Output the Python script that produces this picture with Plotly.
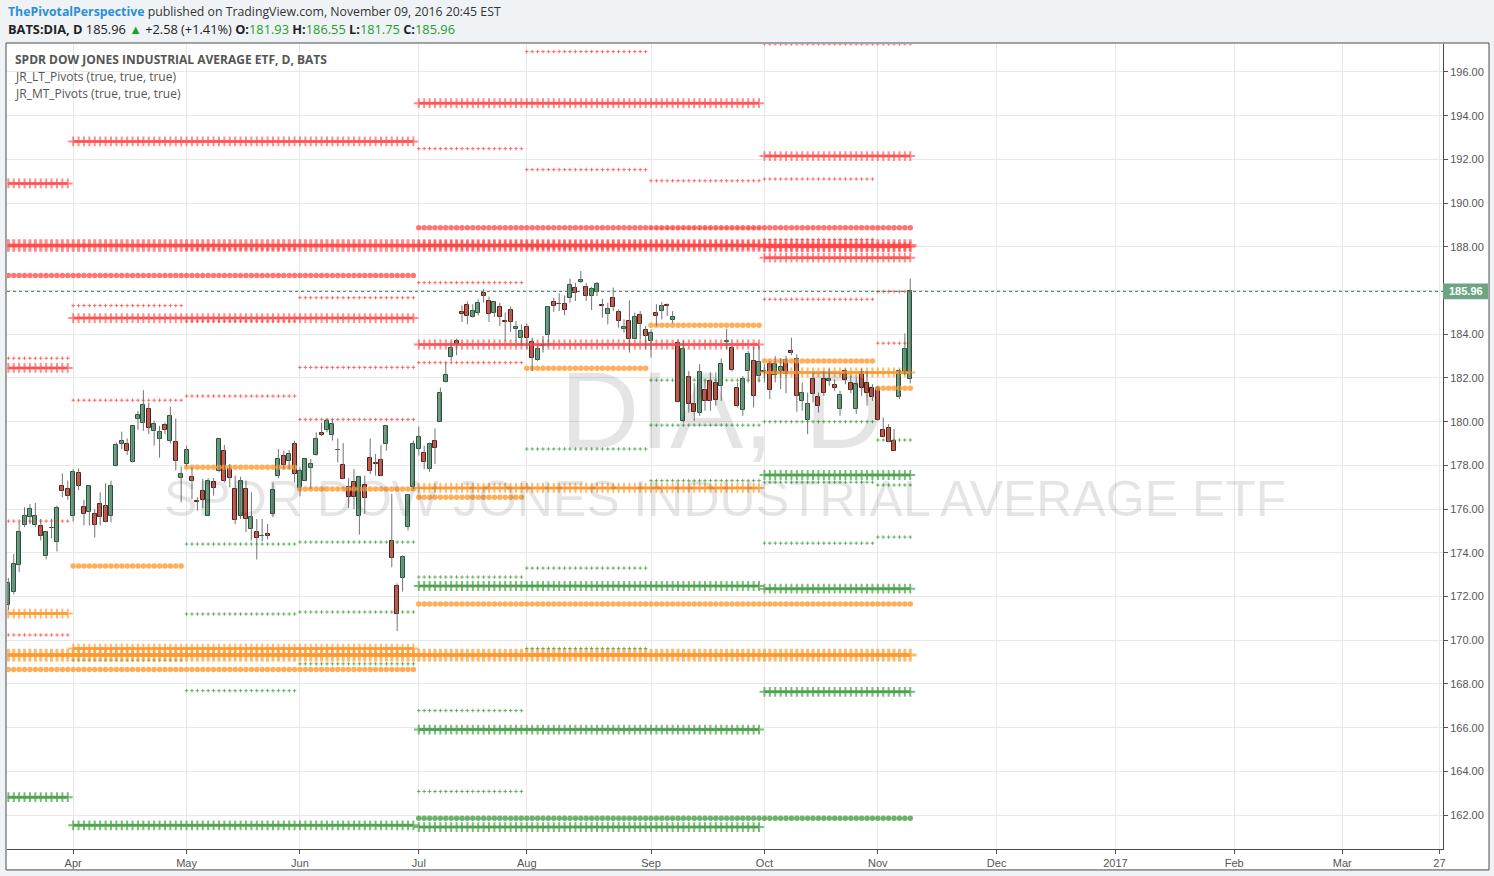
import pandas as pd
import plotly.graph_objects as go

# ---------------- trading calendar (bar index axis, like TradingView) ----------------
HOLIDAYS = ["2016-03-25", "2016-05-30", "2016-07-04", "2016-09-05"]
CAL = [d for d in pd.bdate_range("2016-03-15", "2017-03-31") if d.strftime("%Y-%m-%d") not in HOLIDAYS]

# ---------------- daily candles BATS:DIA (2016-03-15 .. 2016-11-09) ----------------
OPEN = [171.59, 172.20, 173.42, 175.25, 175.63, 175.29, 175.22, 173.85, 175.14, 174.49, 177.07, 176.90,
        175.70, 177.63, 176.08, 175.85, 175.76, 176.22, 176.13, 175.70, 177.98, 178.99, 178.96, 178.14,
        180.14, 179.96, 180.60, 179.58, 179.20, 179.84, 179.10, 179.05, 177.41, 178.05, 177.45, 176.36,
        176.81, 175.67, 177.22, 177.73, 178.68, 177.83, 176.90, 175.67, 176.90, 175.09, 174.94, 174.76,
        174.87, 175.76, 177.50, 178.45, 178.21, 178.96, 176.95, 177.27, 177.86, 178.47, 179.46, 179.63,
        179.39, 178.69, 178.00, 177.00, 177.22, 175.70, 177.12, 178.35, 178.08, 178.23, 179.00, 174.53,
        172.48, 172.84, 175.17, 177.00, 178.75, 178.56, 177.83, 179.13, 179.99, 181.82, 182.98, 183.67,
        185.03, 185.35, 184.79, 184.99, 185.90, 185.53, 184.99, 185.26, 184.58, 185.12, 184.26, 183.83,
        184.35, 183.66, 182.83, 183.47, 183.97, 185.49, 185.39, 185.40, 185.67, 186.13, 186.38, 186.17,
        185.75, 185.93, 185.30, 184.92, 185.67, 185.03, 184.26, 184.62, 183.80, 184.90, 184.21, 183.69,
        184.95, 185.06, 185.33, 184.65, 183.59, 180.04, 182.06, 180.83, 180.38, 181.46, 181.87, 181.79,
        181.64, 183.65, 183.39, 181.52, 180.54, 182.32, 182.78, 182.10, 182.28, 182.63, 182.14, 182.32,
        182.81, 183.21, 182.86, 180.95, 180.09, 181.97, 181.15, 181.94, 181.84, 181.68, 180.60, 182.34,
        181.79, 180.60, 182.29, 181.79, 181.56, 181.52, 179.63, 179.69, 179.10, 181.14, 182.20, 181.93]
HIGH = [172.85, 173.95, 175.40, 176.08, 176.23, 176.28, 175.55, 175.00, 175.55, 176.16, 177.63, 177.30,
        177.83, 177.86, 176.43, 177.10, 176.01, 176.77, 177.18, 177.30, 179.05, 179.54, 179.23, 179.81,
        180.49, 181.44, 180.87, 180.04, 179.81, 179.96, 180.68, 180.14, 177.95, 178.90, 177.91, 176.54,
        177.38, 177.41, 177.42, 179.23, 178.93, 178.06, 177.53, 177.48, 177.30, 176.77, 175.55, 175.55,
        175.32, 177.22, 178.75, 178.67, 178.70, 179.13, 177.91, 178.29, 178.29, 179.51, 179.96, 180.14,
        180.11, 179.23, 179.02, 177.41, 177.83, 177.48, 177.53, 179.23, 178.52, 178.93, 179.84, 176.69,
        172.60, 173.88, 176.69, 179.13, 179.78, 178.90, 179.05, 179.69, 181.56, 182.70, 183.62, 183.80,
        185.32, 185.50, 185.37, 185.59, 186.08, 185.72, 185.52, 185.44, 184.99, 185.26, 184.60, 184.45,
        184.50, 183.84, 183.54, 183.92, 185.29, 185.67, 185.87, 185.78, 186.54, 186.35, 186.89, 186.35,
        186.17, 186.39, 185.62, 185.44, 186.13, 185.14, 184.68, 185.55, 184.99, 185.06, 184.38, 184.22,
        185.37, 185.47, 185.41, 185.06, 183.77, 183.69, 182.32, 181.76, 182.63, 181.87, 182.25, 182.25,
        182.89, 184.25, 183.45, 181.79, 182.09, 183.24, 183.43, 183.46, 182.63, 182.78, 183.00, 182.89,
        183.01, 183.84, 183.08, 181.79, 181.33, 182.25, 181.33, 182.32, 182.43, 181.94, 181.41, 182.43,
        182.09, 182.02, 182.43, 182.32, 181.71, 181.61, 180.19, 179.89, 179.66, 182.40, 184.04, 186.55]
LOW = [171.40, 172.10, 173.12, 175.17, 175.32, 175.17, 174.56, 173.70, 174.67, 174.06, 176.54, 176.43,
       175.43, 176.87, 175.25, 175.25, 174.70, 175.25, 175.40, 175.40, 177.95, 178.75, 178.47, 178.14,
       179.63, 179.58, 179.43, 178.90, 178.35, 179.43, 179.00, 177.76, 176.31, 177.95, 176.46, 175.93,
       176.04, 175.67, 176.62, 177.68, 177.22, 176.99, 175.32, 175.55, 174.94, 174.56, 173.69, 174.52,
       174.61, 175.63, 177.41, 177.83, 177.83, 177.22, 176.58, 177.27, 176.92, 178.44, 179.35, 179.51,
       179.13, 178.14, 177.38, 176.04, 176.00, 174.83, 175.78, 177.60, 177.53, 177.50, 178.67, 173.34,
       170.42, 172.23, 175.02, 176.92, 178.45, 177.83, 177.70, 178.06, 179.99, 181.79, 182.78, 183.04,
       184.56, 184.45, 184.76, 184.86, 185.44, 184.56, 184.79, 184.38, 183.69, 184.10, 183.69, 183.46,
       183.31, 182.32, 182.78, 183.16, 183.43, 185.02, 185.06, 184.86, 185.44, 185.52, 186.35, 185.52,
       185.11, 185.75, 184.76, 184.45, 185.06, 184.30, 184.07, 183.16, 183.77, 183.77, 183.31, 182.93,
       184.38, 184.68, 184.83, 184.50, 180.88, 179.96, 180.42, 180.04, 180.27, 180.50, 180.50, 180.73,
       180.95, 183.31, 182.30, 180.65, 180.27, 181.79, 180.65, 181.79, 181.79, 181.03, 181.79, 181.49,
       181.30, 183.04, 180.45, 180.50, 179.43, 180.88, 180.42, 181.18, 181.64, 181.41, 180.27, 181.71,
       181.30, 180.35, 181.18, 180.73, 180.95, 180.04, 179.28, 179.05, 178.67, 181.03, 182.13, 181.75]
CLOSE = [172.63, 173.50, 174.94, 175.67, 176.01, 175.67, 174.79, 174.94, 175.12, 176.04, 176.84, 176.62,
         177.71, 177.07, 175.78, 177.04, 175.25, 175.63, 175.43, 177.07, 178.93, 179.11, 178.67, 179.78,
         180.30, 180.75, 179.69, 179.87, 179.54, 179.63, 180.24, 178.18, 177.59, 178.70, 177.27, 176.33,
         176.43, 177.30, 176.95, 179.19, 177.27, 177.41, 175.50, 177.27, 175.55, 175.63, 174.68, 174.78,
         174.76, 176.86, 178.27, 178.03, 178.50, 177.60, 177.73, 178.27, 178.06, 179.19, 179.37, 180.05,
         179.87, 178.71, 177.38, 176.54, 176.54, 177.45, 176.49, 177.76, 178.06, 177.53, 179.78, 173.75,
         171.18, 173.80, 176.65, 179.00, 179.28, 178.17, 178.98, 178.78, 181.29, 182.12, 183.39, 183.55,
         184.92, 184.83, 185.08, 185.41, 185.75, 184.94, 185.49, 184.80, 184.56, 184.56, 184.35, 184.13,
         183.84, 182.93, 183.34, 183.46, 185.26, 185.29, 185.37, 185.11, 186.26, 185.87, 186.48, 185.75,
         186.08, 186.31, 185.29, 185.14, 185.24, 184.60, 184.35, 183.77, 184.80, 184.47, 183.92, 184.07,
         184.83, 185.30, 185.31, 184.80, 180.88, 183.31, 180.80, 180.42, 182.25, 180.95, 180.95, 181.00,
         182.66, 183.66, 182.37, 180.73, 181.97, 183.08, 181.18, 182.75, 182.29, 181.46, 182.66, 182.52,
         182.20, 183.12, 181.18, 181.33, 180.83, 181.26, 180.70, 181.33, 181.97, 181.52, 181.21, 181.91,
         181.46, 181.74, 181.52, 181.33, 181.15, 180.09, 179.31, 179.08, 178.67, 182.32, 183.34, 185.96]

N = len(CLOSE)
DATES = CAL[:N]

# ---------------- pivot periods ----------------
PERIODS = {
    "Y16": ("2016-01-01", "2016-12-31"),
    "H1": ("2016-01-01", "2016-06-30"), "H2": ("2016-07-01", "2016-12-31"),
    "Q1": ("2016-01-01", "2016-03-31"), "Q2": ("2016-04-01", "2016-06-30"),
    "Q3": ("2016-07-01", "2016-09-30"), "Q4": ("2016-10-01", "2016-12-31"),
    "Mar": ("2016-03-01", "2016-03-31"), "Apr": ("2016-04-01", "2016-04-30"),
    "May": ("2016-05-01", "2016-05-31"), "Jun": ("2016-06-01", "2016-06-30"),
    "Jul": ("2016-07-01", "2016-07-31"), "Aug": ("2016-08-01", "2016-08-31"),
    "Sep": ("2016-09-01", "2016-09-30"), "Oct": ("2016-10-01", "2016-10-31"),
    "Nov": ("2016-11-01", "2016-11-30"),
}

# JR_LT_Pivots : yearly (heavy crosses), half-year (circles), quarterly (crosses)
YEARLY_LEVELS = [("Y16", 188.06, "R"), ("Y16", 169.32, "P")]
HALF_LEVELS = [("H1", 186.69, "R"), ("H1", 168.66, "P"),
               ("H2", 188.87, "R"), ("H2", 171.66, "P"), ("H2", 161.85, "S")]
QUARTER_LEVELS = [("Q1", 190.90, "R"), ("Q1", 182.46, "R"), ("Q1", 171.22, "P"), ("Q1", 162.82, "S"),
                  ("Q2", 192.82, "R"), ("Q2", 184.74, "R"), ("Q2", 169.62, "P"), ("Q2", 161.53, "S"),
                  ("Q3", 194.57, "R"), ("Q3", 188.07, "R"), ("Q3", 183.53, "R"), ("Q3", 176.97, "P"),
                  ("Q3", 172.48, "S"), ("Q3", 165.91, "S"), ("Q3", 161.45, "S"),
                  ("Q4", 192.15, "R"), ("Q4", 188.00, "R"), ("Q4", 187.50, "R"), ("Q4", 182.25, "P"),
                  ("Q4", 177.56, "S"), ("Q4", 172.36, "S"), ("Q4", 167.64, "S")]
# JR_MT_Pivots : monthly pivot (circles) and monthly levels (small crosses)
MONTH_PIVOTS = [("Apr", 173.39), ("May", 177.91), ("Jun", 176.92), ("Jul", 176.54),
                ("Aug", 182.44), ("Sep", 184.41), ("Oct", 182.78), ("Nov", 181.53)]
MONTH_LEVELS = [("Mar", 182.90, "R"), ("Mar", 175.45, "R"), ("Mar", 170.24, "R"),
                ("Apr", 185.31, "R"), ("Apr", 180.98, "R"), ("Apr", 169.09, "S"),
                ("May", 187.90, "R"), ("May", 184.60, "R"), ("May", 181.17, "R"),
                ("May", 174.40, "S"), ("May", 171.20, "S"), ("May", 167.69, "S"),
                ("Jun", 185.67, "R"), ("Jun", 182.48, "R"), ("Jun", 180.10, "R"),
                ("Jun", 174.49, "S"), ("Jun", 171.29, "S"), ("Jun", 168.92, "S"),
                ("Jul", 192.49, "R"), ("Jul", 186.36, "R"), ("Jul", 182.70, "R"),
                ("Jul", 172.89, "S"), ("Jul", 166.78, "S"), ("Jul", 163.08, "S"),
                ("Aug", 196.93, "R"), ("Aug", 191.53, "R"), ("Aug", 187.95, "R"),
                ("Aug", 178.75, "S"), ("Aug", 173.30, "S"), ("Aug", 169.62, "S"),
                ("Sep", 191.02, "R"), ("Sep", 188.85, "R"),
                ("Sep", 181.90, "S"), ("Sep", 179.84, "S"), ("Sep", 177.30, "S"),
                ("Oct", 197.28, "R"), ("Oct", 191.10, "R"), ("Oct", 188.33, "R"), ("Oct", 185.60, "R"),
                ("Oct", 180.00, "S"), ("Oct", 177.23, "S"), ("Oct", 174.44, "S"),
                ("Nov", 197.28, "R"), ("Nov", 185.95, "R"), ("Nov", 183.59, "R"),
                ("Nov", 179.16, "S"), ("Nov", 177.10, "S"), ("Nov", 174.72, "S")]

TICK_MONTHS = ["2016-04-01", "2016-05-01", "2016-06-01", "2016-07-01", "2016-08-01", "2016-09-01",
               "2016-10-01", "2016-11-01", "2016-12-01", "2017-01-01", "2017-02-01", "2017-03-01",
               "2017-03-27"]
TICK_TEXT = ["Apr", "May", "Jun", "Jul", "Aug", "Sep", "Oct", "Nov", "Dec", "2017", "Feb", "Mar", "27"]
Y_TICKS = list(range(162, 197, 2))


def bars_in(period):
    a, b = PERIODS[period]
    a, b = pd.Timestamp(a), pd.Timestamp(b)
    return [i for i, d in enumerate(DATES) if a <= d <= b]


def first_bar_on_or_after(day):
    t = pd.Timestamp(day)
    return next(i for i, d in enumerate(CAL) if d >= t)


COL = {
    "thick": {"R": "rgba(255,70,70,0.62)", "P": "rgba(255,150,40,0.68)", "S": "rgba(70,160,70,0.72)"},
    "thin": {"R": "rgba(255,60,60,0.7)", "P": "rgba(255,150,40,0.75)", "S": "rgba(60,160,60,0.75)"},
    "dot": {"R": "rgba(255,70,70,0.75)", "P": "rgba(255,160,60,0.85)", "S": "rgba(70,160,70,0.8)"},
}

fig = go.Figure()


def add_level(period, level, role, kind):
    xs = bars_in(period)
    ys = [level] * len(xs)
    if kind == "year":
        fig.add_trace(go.Scatter(x=xs, y=ys, mode="lines+markers",
                                 line=dict(color=COL["thick"][role], width=4),
                                 marker=dict(symbol="cross-thin", size=9,
                                             line=dict(color=COL["thick"][role], width=3)),
                                 hoverinfo="skip", showlegend=False))
    elif kind == "quarter":
        fig.add_trace(go.Scatter(x=xs, y=ys, mode="lines+markers",
                                 line=dict(color=COL["thick"][role], width=3),
                                 marker=dict(symbol="cross-thin", size=7,
                                             line=dict(color=COL["thick"][role], width=2)),
                                 hoverinfo="skip", showlegend=False))
    elif kind == "circle":
        fig.add_trace(go.Scatter(x=xs, y=ys, mode="markers",
                                 marker=dict(symbol="circle", size=5.5, color=COL["dot"][role],
                                             line=dict(width=0)),
                                 hoverinfo="skip", showlegend=False))
    else:
        fig.add_trace(go.Scatter(x=xs, y=ys, mode="markers",
                                 marker=dict(symbol="cross-thin", size=2.6,
                                             line=dict(color=COL["thin"][role], width=1)),
                                 hoverinfo="skip", showlegend=False))


for p, lv, r in MONTH_LEVELS:
    add_level(p, lv, r, "thin")
for p, lv in MONTH_PIVOTS:
    add_level(p, lv, "P", "circle")
for p, lv, r in HALF_LEVELS:
    add_level(p, lv, r, "circle")
for p, lv, r in QUARTER_LEVELS:
    add_level(p, lv, r, "quarter")
for p, lv, r in YEARLY_LEVELS:
    add_level(p, lv, r, "year")

# ---------------- candles ----------------
idx = list(range(N))
wx, wy = [], []
for i in idx:
    wx += [i, i, None]
    wy += [LOW[i], HIGH[i], None]
fig.add_trace(go.Scatter(x=wx, y=wy, mode="lines", line=dict(color="#737375", width=1),
                         hoverinfo="skip", showlegend=False))

for up in (True, False):
    sel = [i for i in idx if (CLOSE[i] >= OPEN[i]) == up]
    fig.add_trace(go.Bar(
        x=sel,
        base=[min(OPEN[i], CLOSE[i]) for i in sel],
        y=[max(abs(CLOSE[i] - OPEN[i]), 0.03) for i in sel],
        width=0.72,
        marker=dict(color="#6ba583" if up else "#d75442",
                    line=dict(color="#225437" if up else "#5b1a13", width=1)),
        hoverinfo="skip", showlegend=False))

last = CLOSE[-1]
tickvals = [first_bar_on_or_after(d) for d in TICK_MONTHS]

PX_W, PX_H = 1494, 876
L, R, T, B = 7, 51, 44, 25
pw, ph = PX_W - L - R, PX_H - T - B


def px(xp):
    return (xp - L) / pw


def py(yp):
    return (PX_H - B - yp) / ph


font_ui = "Open Sans, Noto Sans, Liberation Sans, sans-serif"

fig.update_layout(
    width=PX_W, height=PX_H,
    margin=dict(l=L, r=R, t=T, b=B, pad=0),
    paper_bgcolor="#f0f3f6", plot_bgcolor="#ffffff",
    barmode="overlay", bargap=0,
    showlegend=False,
    xaxis=dict(range=[-0.25, 265.65], tickmode="array", tickvals=tickvals, ticktext=TICK_TEXT,
               showgrid=True, gridcolor="#e8e8e8", gridwidth=1, zeroline=False,
               ticks="outside", ticklen=4, tickcolor="#555555",
               showline=True, linecolor="#4a4a4a", linewidth=1,
               tickfont=dict(family="Liberation Sans Narrow, Liberation Sans, Arial", size=11, color="#555555")),
    yaxis=dict(range=[160.448, 197.278], side="right", tickmode="array", tickvals=Y_TICKS,
               tickformat=".2f", showgrid=True, gridcolor="#e8e8e8", gridwidth=1, zeroline=False,
               ticks="outside", ticklen=4, tickcolor="#555555",
               showline=True, linecolor="#4a4a4a", linewidth=1,
               tickfont=dict(family="Liberation Sans, Arial", size=11, color="#555555")),
)

shapes = [
    # chart panel (white) with border
    dict(type="rect", xref="paper", yref="paper", x0=px(6), x1=px(1489), y0=py(872), y1=py(43),
         fillcolor="#ffffff", line=dict(color="#4a4a4a", width=1), layer="below"),
    # last price line
    dict(type="line", xref="paper", yref="y", x0=0, x1=1, y0=last, y1=last,
         line=dict(color="#3f7a5a", width=1, dash="dot")),
    # last price tag
    dict(type="rect", xref="paper", yref="y", x0=px(1443), x1=px(1488),
         y0=last - 8 / 21.912, y1=last + 8 / 21.912, fillcolor="#6ba583", line=dict(width=0)),
]
fig.update_layout(shapes=shapes)

green = "#1e9e2a"
ann = [
    dict(x=px(6), y=py(11), xref="paper", yref="paper", xanchor="left", yanchor="middle", showarrow=False,
         text="<b><span style='color:#2b8fd6'>ThePivotalPerspective</span></b> published on TradingView.com, November 09, 2016 20:45 EST",
         font=dict(family=font_ui, size=12.3, color="#333333")),
    dict(x=px(6), y=py(29), xref="paper", yref="paper", xanchor="left", yanchor="middle", showarrow=False,
         text=("<b>BATS:DIA, D</b> 185.96 <span style='color:%s'>▲</span> +2.58 (+1.41%%) "
               "<b>O:</b><span style='color:%s'>181.93</span> <b>H:</b><span style='color:%s'>186.55</span> "
               "<b>L:</b><span style='color:%s'>181.75</span> <b>C:</b><span style='color:%s'>185.96</span>")
              % (green, green, green, green, green),
         font=dict(family=font_ui, size=12.8, color="#222222")),
    dict(x=px(13), y=py(60), xref="paper", yref="paper", xanchor="left", yanchor="middle", showarrow=False,
         text="<b>SPDR DOW JONES INDUSTRIAL AVERAGE ETF, D, BATS</b>",
         font=dict(family=font_ui, size=12, color="#555555")),
    dict(x=px(13), y=py(77), xref="paper", yref="paper", xanchor="left", yanchor="middle", showarrow=False,
         text="JR_LT_Pivots (true, true, true)", font=dict(family=font_ui, size=12, color="#555555")),
    dict(x=px(13), y=py(94), xref="paper", yref="paper", xanchor="left", yanchor="middle", showarrow=False,
         text="JR_MT_Pivots (true, true, true)", font=dict(family=font_ui, size=12, color="#555555")),
    # watermark
    dict(x=px(722), y=py(410), xref="paper", yref="paper", xanchor="center", yanchor="middle", showarrow=False,
         text="DIA, D", font=dict(family="Liberation Sans, Arial", size=110, color="rgba(0,0,0,0.10)")),
    dict(x=px(725), y=py(500), xref="paper", yref="paper", xanchor="center", yanchor="middle", showarrow=False,
         text="SPDR DOW JONES INDUSTRIAL AVERAGE ETF",
         font=dict(family="Liberation Sans, Arial", size=50, color="rgba(0,0,0,0.10)")),
    # last price label
    dict(x=px(1466), y=last, xref="paper", yref="y", xanchor="center", yanchor="middle", showarrow=False,
         text="<b>%.2f</b>" % last, font=dict(family="Liberation Sans, Arial", size=11, color="#ffffff")),
]
fig.update_layout(annotations=ann)

fig.write_html("out.html", config={"displayModeBar": False})

# remove the default page margin so the figure sits at the window origin
with open("out.html", encoding="utf-8") as fh:
    html = fh.read()
html = html.replace("<head>", "<head><style>html,body{margin:0;padding:0;overflow:hidden;}</style>", 1)
with open("out.html", "w", encoding="utf-8") as fh:
    fh.write(html)
